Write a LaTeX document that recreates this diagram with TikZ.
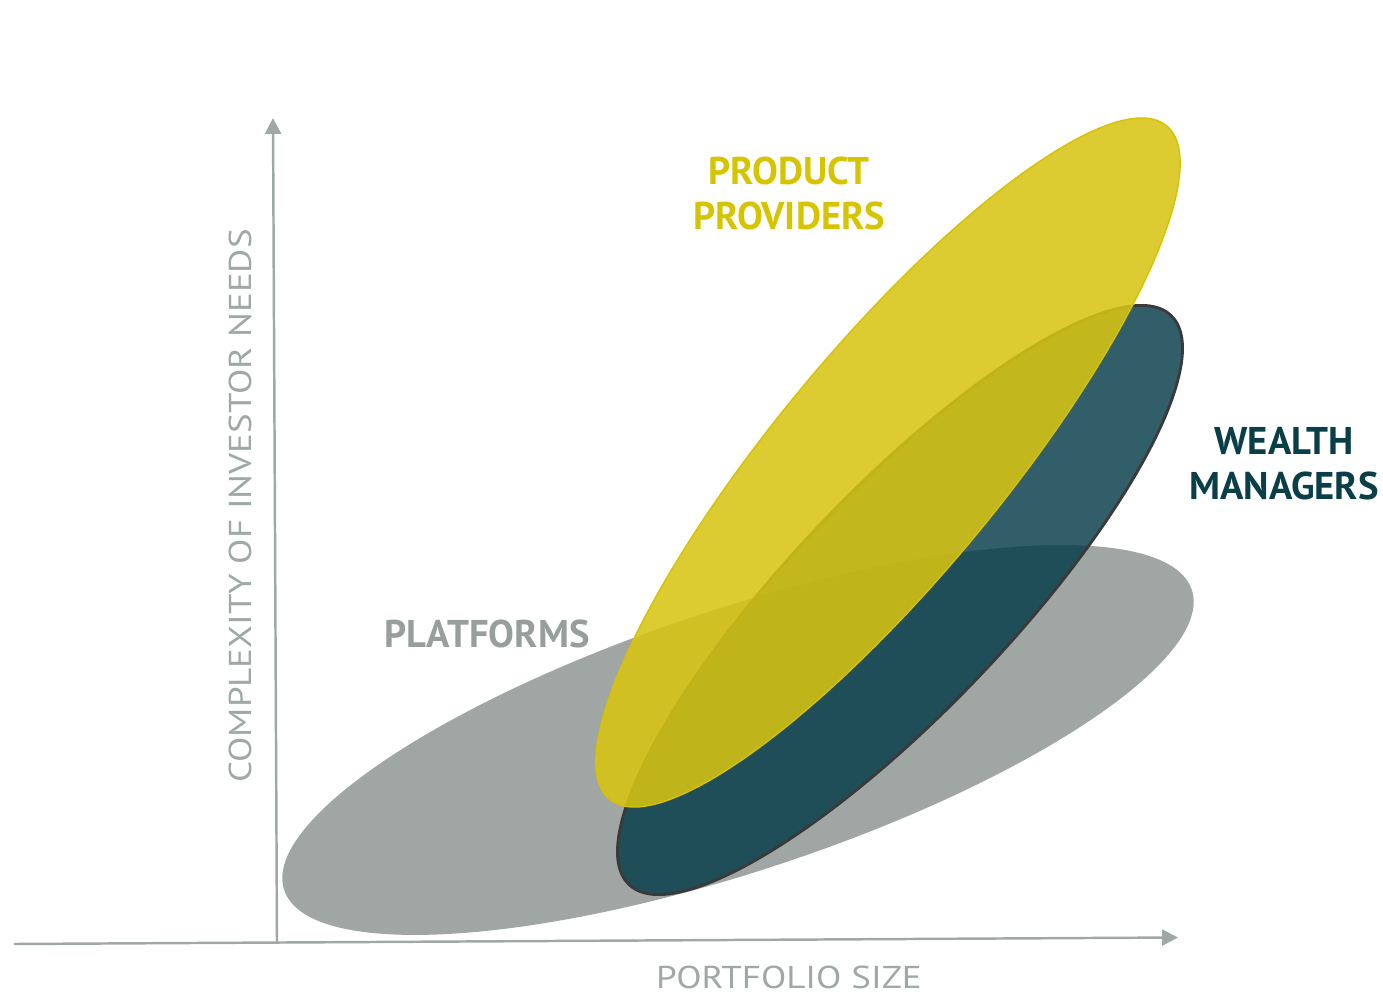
\documentclass[tikz,border=0pt]{standalone}
\usepackage{fontspec}
\setmainfont{PT Sans}
\newfontfamily\axisfont[FakeStretch=1.17]{PT Sans}
\usetikzlibrary{arrows.meta}

\definecolor{axisgray}{RGB}{160,168,165}
\definecolor{platgray}{RGB}{160,166,163}
\definecolor{plattext}{RGB}{150,159,156}
\definecolor{wealthteal}{RGB}{7,61,73}
\definecolor{wealthtext}{RGB}{10,62,72}
\definecolor{edgegray}{RGB}{58,58,58}
\definecolor{provyellow}{RGB}{216,196,18}
\definecolor{provedge}{RGB}{214,194,0}
\definecolor{provtext}{RGB}{214,196,0}

\begin{document}
\begin{tikzpicture}[x=0.02cm, y=0.02cm]
\tikzstyle{every node}+=[inner sep=0pt]
\tikzstyle{axisline}=[axisgray, line width=1.4pt, -{Triangle[length=9pt,width=9pt]}]
\tikzstyle{axistext}=[axisgray, font=\axisfont\fontsize{18}{22}\selectfont]
\tikzstyle{grouplabel}=[font=\fontsize{22}{25.5}\selectfont\bfseries, align=center]
\useasboundingbox (0,0) rectangle (1383,995);
% axes
\coordinate (origin) at (277,53);
\coordinate (yend) at (273,877);
\coordinate (xstart) at (14,51);
\coordinate (xend) at (1178,57.5);
\draw [axisline] (origin) -- (yend);
\draw [axisline] (xstart) -- (xend);
\node [axistext] (xlabel) at (789,18) {PORTFOLIO SIZE};
\node [axistext, rotate=90] (ylabel) at (240,489) {COMPLEXITY OF INVESTOR NEEDS};
% the three groups
\fill [platgray] (738,255) ellipse [x radius=478, y radius=131, rotate=18.3];
\filldraw [fill=wealthteal, fill opacity=0.83, draw=edgegray, line width=1.6pt] (900,395) ellipse [x radius=393, y radius=110, rotate=46.4];
\filldraw [fill=provyellow, fill opacity=0.87, draw=provedge, line width=0.8pt] (888,532.5) ellipse [x radius=437, y radius=114, rotate=50.4];
\node [grouplabel, provtext] (providers) at (789,801.5) {PRODUCT\\PROVIDERS};
\node [grouplabel, wealthtext] (managers) at (1284,531) {WEALTH\\MANAGERS};
\node [grouplabel, plattext] (platforms) at (487,361) {PLATFORMS};
\end{tikzpicture}
\end{document}
